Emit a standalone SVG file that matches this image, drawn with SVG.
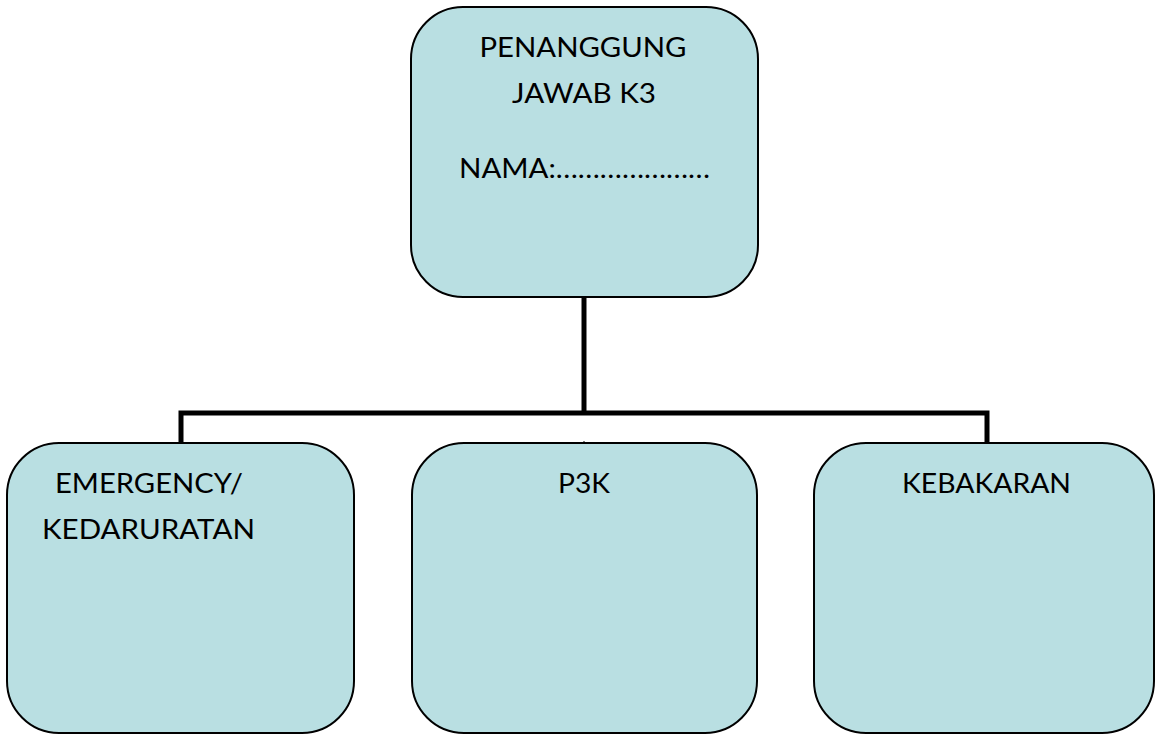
<svg xmlns="http://www.w3.org/2000/svg" width="1155" height="734" viewBox="0 0 1155 734">
<style>
.box{fill:#b9dfe2;stroke:#000;stroke-width:2}
.t{font-family:Lato,"Open Sans","Liberation Sans",sans-serif;font-size:27px;fill:#000}
.c{fill:none;stroke:#000;stroke-width:5;stroke-linejoin:miter}
</style>
<rect width="1155" height="734" fill="#fff"/>
<g id="connectors">
<path class="c" d="M584,297 V413"/>
<path class="c" d="M181,443 V413 H987 V443"/>
<path d="M584,441 V445" stroke="#000" stroke-width="1"/>
</g>
<g id="node-top">
<rect class="box" x="411" y="7" width="347" height="290" rx="52" ry="52"/>
<text class="t" x="583" y="57" text-anchor="middle" textLength="207" lengthAdjust="spacingAndGlyphs">PENANGGUNG</text>
<text class="t" x="584" y="103" text-anchor="middle" textLength="144" lengthAdjust="spacingAndGlyphs">JAWAB K3</text>
<text class="t" x="459" y="178" textLength="251" lengthAdjust="spacingAndGlyphs">NAMA:…………………</text>
</g>
<g id="node-emergency">
<rect class="box" x="7" y="443" width="347" height="290" rx="52" ry="52"/>
<text class="t" x="55" y="493" textLength="188" lengthAdjust="spacingAndGlyphs">EMERGENCY/</text>
<text class="t" x="42" y="539" textLength="213" lengthAdjust="spacingAndGlyphs">KEDARURATAN</text>
</g>
<g id="node-p3k">
<rect class="box" x="412" y="443" width="345" height="290" rx="52" ry="52"/>
<text class="t" x="558" y="493" textLength="52" lengthAdjust="spacingAndGlyphs">P3K</text>
</g>
<g id="node-kebakaran">
<rect class="box" x="814" y="443" width="340" height="290" rx="52" ry="52"/>
<text class="t" x="902" y="493" textLength="169" lengthAdjust="spacingAndGlyphs">KEBAKARAN</text>
</g>
</svg>
